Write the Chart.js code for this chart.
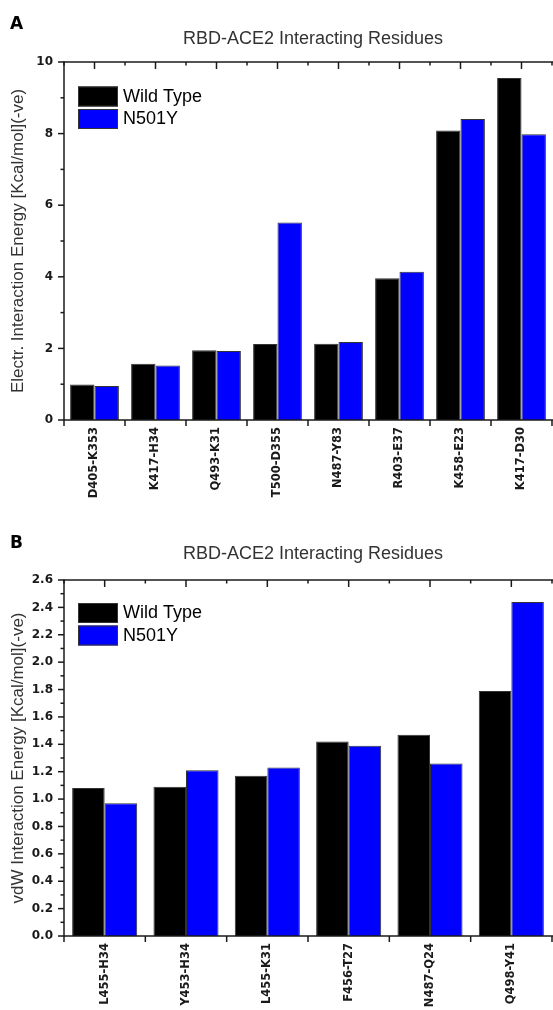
<!DOCTYPE html>
<html>
<head>
<meta charset="utf-8">
<title>RBD-ACE2 Interacting Residues</title>
<script src="https://cdn.jsdelivr.net/npm/chart.js@4.4.3/dist/chart.umd.min.js"></script>
<style>
  html, body { margin: 0; padding: 0; background: #fff; overflow: hidden; }
  .panel { position: absolute; left: 0; }
  #panel-a { top: 0; }
  #panel-b { top: 510px; }
  canvas { display: block; }
</style>
</head>
<body>
<div class="panel" id="panel-a"><canvas id="chart-a" width="553" height="510"></canvas></div>
<div class="panel" id="panel-b"><canvas id="chart-b" width="553" height="500"></canvas></div>

<script>
/* ── Data ──────────────────────────────────────────────────────────────── */
const SERIES_NAMES = ["Wild Type", "N501Y"];

// Panel A: electrostatic interaction energy (kcal/mol, sign flipped)
const ELEC_RESIDUES = ["D405-K353", "K417-H34", "Q493-K31", "T500-D355",
                       "N487-Y83", "R403-E37", "K458-E23", "K417-D30"];
const ELEC_WILD  = [0.99, 1.57, 1.95, 2.12, 2.13, 3.96, 8.09, 9.55];
const ELEC_N501Y = [0.95, 1.52, 1.93, 5.52, 2.18, 4.14, 8.41, 7.98];
const ELEC_TICK_LABELS = ["0", "2", "4", "6", "8", "10"];

// Panel B: van der Waals interaction energy
const VDW_RESIDUES = ["L455-H34", "Y453-H34", "L455-K31",
                      "F456-T27", "N487-Q24", "Q498-Y41"];
const VDW_WILD  = [1.08, 1.09, 1.17, 1.42, 1.47, 1.79];
const VDW_N501Y = [0.97, 1.21, 1.23, 1.39, 1.26, 2.44];
const VDW_TICK_LABELS = ["0.0", "0.2", "0.4", "0.6", "0.8", "1.0", "1.2",
                         "1.4", "1.6", "1.8", "2.0", "2.2", "2.4", "2.6"];

/* ── Look ──────────────────────────────────────────────────────────────── */
const INK   = "#1a1a1a";
const GREY  = "#333333";
const COLORS = ["#000000", "#0000ff"];
const SANS  = "'Liberation Sans', Arial, sans-serif";
const BOLD  = "'DejaVu Sans', Verdana, sans-serif";

/* ── Frame, ticks, title, legend (drawn over the chart area) ──────────── */
const frame = {
  id: "frame",
  afterDraw(chart, _args, opts) {
    const { ctx, chartArea: a, scales: { x, y } } = chart;
    const n = chart.data.labels.length;
    const seg = (x1, y1, x2, y2) => {
      ctx.beginPath(); ctx.moveTo(x1, y1); ctx.lineTo(x2, y2); ctx.stroke();
    };

    ctx.save();
    ctx.strokeStyle = INK;
    ctx.lineWidth = 1.5;

    // left, bottom, top (right side runs off the page)
    seg(a.left, a.top - 0.75, a.left, a.bottom + 0.75);
    seg(a.left, a.bottom, a.right + 2, a.bottom);
    seg(a.left, a.top, a.right + 2, a.top);

    // y ticks: long where labelled, short in between
    y.ticks.forEach((t) => {
      const py = y.getPixelForValue(t.value);
      seg(a.left - (t.label ? 6 : 3.5), py, a.left, py);
    });

    // x ticks: boundaries below, centres + boundaries on the top edge
    for (let i = 0; i <= n; i++) {
      const edge = x.getPixelForValue(i - 0.5);
      seg(edge, a.bottom, edge, a.bottom + 6);
      seg(edge, a.top, edge, a.top + 3.5);
      if (i < n) {
        const mid = x.getPixelForValue(i);
        seg(mid, a.top, mid, a.top + 7);
      }
    }

    // panel letter + title
    ctx.fillStyle = "#000";
    ctx.textAlign = "left";
    ctx.textBaseline = "alphabetic";
    ctx.font = `bold 17px ${BOLD}`;
    ctx.fillText(opts.panel, 10, opts.panelY);

    ctx.fillStyle = GREY;
    ctx.textAlign = "center";
    ctx.font = `18px ${SANS}`;
    ctx.fillText(opts.title, (a.left + a.right) / 2 + 5, opts.titleY);

    // legend, top-left inside the plot
    ctx.textAlign = "left";
    ctx.textBaseline = "middle";
    ctx.lineWidth = 1;
    ctx.strokeStyle = GREY;
    chart.data.datasets.forEach((ds, i) => {
      const bx = a.left + 14;
      const by = a.top + opts.legendY + i * 22.5;
      ctx.fillStyle = ds.backgroundColor;
      ctx.fillRect(bx, by, 40, 20);
      ctx.strokeRect(bx + 0.5, by + 0.5, 39, 19);
      ctx.fillStyle = "#000";
      ctx.font = `18px ${SANS}`;
      ctx.fillText(ds.label, bx + 45, by + 10.5);
    });
    ctx.restore();
  },
};

/* ── Chart builder ─────────────────────────────────────────────────────── */
function mkChart(canvasId, cfg) {
  const labelled = (v) =>
    cfg.tickLabels.find((s) => Math.abs(parseFloat(s) - v) < 1e-6) || "";

  return new Chart(document.getElementById(canvasId), {
    type: "bar",
    data: {
      labels: cfg.residues,
      datasets: [cfg.wild, cfg.mutant].map((values, i) => ({
        label: SERIES_NAMES[i],
        data: values,
        backgroundColor: COLORS[i],
        borderColor: GREY,
        borderWidth: 1,
        categoryPercentage: 0.8,
        barPercentage: 1.0,
      })),
    },
    options: {
      responsive: false,
      animation: false,
      layout: { padding: { top: cfg.top, left: 0, right: 1, bottom: 0 } },
      plugins: {
        legend: { display: false },
        title: { display: false },
        tooltip: { enabled: false },
        frame: {
          panel: cfg.panel,
          panelY: cfg.panelY,
          title: "RBD-ACE2 Interacting Residues",
          titleY: cfg.titleY,
          legendY: cfg.legendY,
        },
      },
      scales: {
        x: {
          grid: { display: false, drawTicks: false },
          border: { display: false },
          ticks: {
            autoSkip: false,
            minRotation: 90,
            maxRotation: 90,
            padding: 7,
            color: INK,
            font: { family: BOLD, weight: "bold", size: 11.5 },
          },
          afterFit: (s) => { s.height = cfg.xHeight; },
        },
        y: {
          min: 0,
          max: cfg.max,
          grid: { display: false, drawTicks: false },
          border: { display: false },
          ticks: {
            stepSize: cfg.step,
            autoSkip: false,
            padding: 11,
            color: INK,
            font: { family: BOLD, weight: "bold", size: 12 },
            callback: (v) => labelled(v),
          },
          title: {
            display: true,
            text: cfg.yTitle,
            color: GREY,
            font: { family: SANS, size: 17 },
            padding: { top: 8, bottom: 0 },
          },
          afterFit: (s) => { s.width = 64; },
        },
      },
    },
    plugins: [frame],
  });
}

/* ── Bootstrap ─────────────────────────────────────────────────────────── */
mkChart("chart-a", {
  residues: ELEC_RESIDUES, wild: ELEC_WILD, mutant: ELEC_N501Y,
  tickLabels: ELEC_TICK_LABELS, max: 10, step: 1,
  yTitle: "Electr. Interaction Energy [Kcal/mol](-ve)",
  panel: "A", panelY: 28.5, titleY: 43.5, legendY: 24.5,
  top: 62, xHeight: 90,
});

mkChart("chart-b", {
  residues: VDW_RESIDUES, wild: VDW_WILD, mutant: VDW_N501Y,
  tickLabels: VDW_TICK_LABELS, max: 2.6, step: 0.1,
  yTitle: "vdW Interaction Energy [Kcal/mol](-ve)",
  panel: "B", panelY: 38, titleY: 49, legendY: 23,
  top: 70, xHeight: 74,
});
</script>
</body>
</html>
